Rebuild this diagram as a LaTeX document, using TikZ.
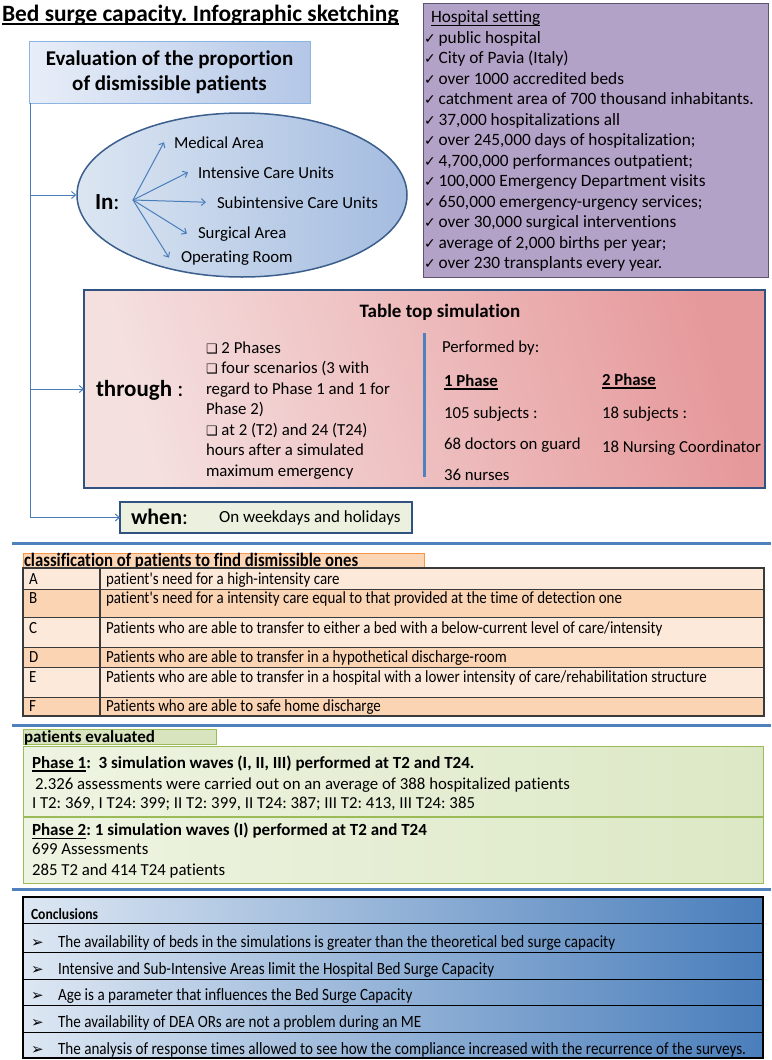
\documentclass[tikz,border=0pt]{standalone}
\usepackage{fontspec}
\setmainfont{Carlito}[Ligatures=NoCommon]
\newfontfamily\narrowfont{Carlito}[FakeStretch=0.88, Ligatures=NoCommon]
\newfontfamily\dingfont{DejaVu Sans}
\usetikzlibrary{shapes.geometric,arrows.meta}
\frenchspacing

\newcommand{\fsz}[1]{\fontsize{#1}{#1}\selectfont}
\newcommand{\chkmark}{{\dingfont\fsz{14}✓}\,}
\newcommand{\qbox}{{\dingfont\fsz{13}❑}\ }
\newcommand{\cbul}{{\dingfont\fsz{15}➢}}
\newcommand{\ulbar}[1]{\setbox0\hbox{#1}\leavevmode\rlap{\vrule height -2.2pt depth 3.5pt width \wd0}\box0}

\definecolor{arrowblue}{HTML}{4A7EBB}
\definecolor{evalL}{HTML}{E8EEF8}
\definecolor{evalR}{HTML}{B4C7E7}
\definecolor{evalline}{HTML}{8EB4E3}
\definecolor{ellL}{HTML}{DCE6F2}
\definecolor{ellR}{HTML}{A4BCE0}
\definecolor{ellline}{HTML}{3B5E8C}
\definecolor{setfill}{HTML}{B3A2C7}
\definecolor{setline}{HTML}{5E5470}
\definecolor{thruL}{HTML}{F5E0E0}
\definecolor{thruR}{HTML}{E6999B}
\definecolor{thruline}{HTML}{2F5280}
\definecolor{divblue}{HTML}{4F81BD}
\definecolor{whenfill}{HTML}{EBF1DE}
\definecolor{sepblue}{HTML}{4F81BD}
\definecolor{hdrorange}{HTML}{FCD5B4}
\definecolor{hdrline}{HTML}{F79646}
\definecolor{rowlight}{HTML}{FDE9D9}
\definecolor{rowdark}{HTML}{FBD4B4}
\definecolor{tabline}{HTML}{3A3A3A}
\definecolor{evhdr}{HTML}{D7E4BD}
\definecolor{evline}{HTML}{9BBB59}
\definecolor{phL}{HTML}{EEF4E2}
\definecolor{phR}{HTML}{DCE8C5}
\definecolor{conL}{HTML}{DDE7F3}
\definecolor{conM}{HTML}{B8CCE6}
\definecolor{conR}{HTML}{4A7EBB}

\tikzset{
  lbl/.style = {anchor=base west, inner sep=0pt, outer sep=0pt, font=#1},
  lbl/.default = {\fsz{16.8}},
  panel/.style = {anchor=north west, inner sep=0pt, outer sep=0pt},
  conn/.style = {arrowblue, line width=1pt, -{Straight Barb[length=4pt,width=7pt]}},
  sepline/.style = {sepblue, line width=3pt}
}

\begin{document}
\begin{tikzpicture}[x=1pt, y=-1pt]
	\useasboundingbox (0,0) rectangle (771,1060);
	\fill[white] (0,0) rectangle (771,1060);
	
	% Title
	\node[lbl={\bfseries\fsz{23.4}}] (title) at (2,21) {\ulbar{Bed surge capacity. Infographic sketching}};
	
	% Evaluation box
	\node[panel, draw=evalline, left color=evalL, right color=evalR, minimum width=281, minimum height=62,
	      align=center, font=\bfseries\fontsize{21}{25}\selectfont] (eval) at (29,41)
	      {Evaluation of the proportion\\of dismissible patients};
	
	% In: ellipse
	\node[ellipse, draw=ellline, line width=1.5pt, left color=ellL, right color=ellR,
	      minimum width=330, minimum height=164] (in) at (242,195) {};
	\node[lbl={\bfseries\fsz{23}}] (inlbl) at (95,209) {In\mdseries:};
	\coordinate (hub) at (133,200);
	\node[lbl={\fsz{16.8}}] (med)  at (174,148) {Medical Area};
	\node[lbl={\fsz{16.8}}] (icu)  at (198,178) {Intensive Care Units};
	\node[lbl={\fsz{16.8}}] (sicu) at (217,208) {Subintensive Care Units};
	\node[lbl={\fsz{16.8}}] (surg) at (198,238) {Surgical Area};
	\node[lbl={\fsz{16.8}}] (orm)  at (181,262) {Operating Room};
	\draw[conn] (hub) -- ([xshift=-10pt]med.west);
	\draw[conn] (hub) -- ([xshift=-10pt]icu.west);
	\draw[conn] (hub) -- ([xshift=-11pt]sicu.west);
	\draw[conn] (hub) -- ([xshift=-11pt]surg.west);
	\draw[conn] (hub) -- ([xshift=-12pt]orm.west);
	
	% Hospital setting
	\node[panel, draw=setline, fill=setfill, minimum width=345, minimum height=274] (setting) at (423,3) {};
	\node[lbl={\fsz{17.3}}] (s0)  at (431,22.5)  {\ulbar{Hospital setting}};
	\node[lbl={\fsz{17.3}}] (s1)  at (424,43)    {\chkmark public hospital};
	\node[lbl={\fsz{17.3}}] (s2)  at (424,63.5)  {\chkmark City of Pavia (Italy)};
	\node[lbl={\fsz{17.3}}] (s3)  at (424,84)    {\chkmark over 1000 accredited beds};
	\node[lbl={\fsz{17.3}}] (s4)  at (424,104.5) {\chkmark catchment area of 700 thousand inhabitants.};
	\node[lbl={\fsz{17.3}}] (s5)  at (424,125)   {\chkmark 37,000 hospitalizations all};
	\node[lbl={\fsz{17.3}}] (s6)  at (424,145.5) {\chkmark over 245,000 days of hospitalization;};
	\node[lbl={\fsz{17.3}}] (s7)  at (424,166)   {\chkmark 4,700,000 performances outpatient;};
	\node[lbl={\fsz{17.3}}] (s8)  at (424,186.5) {\chkmark 100,000 Emergency Department visits};
	\node[lbl={\fsz{17.3}}] (s9)  at (424,207)   {\chkmark 650,000 emergency-urgency services;};
	\node[lbl={\fsz{17.3}}] (s10) at (424,227.5) {\chkmark over 30,000 surgical interventions};
	\node[lbl={\fsz{17.3}}] (s11) at (424,248)   {\chkmark average of 2,000 births per year;};
	\node[lbl={\fsz{17.3}}] (s12) at (424,268.5) {\chkmark over 230 transplants every year.};
	
	% Table top simulation
	\node[panel, draw=thruline, line width=2pt, left color=thruL, right color=thruR, shading angle=105,
	      minimum width=681, minimum height=198] (thru) at (84,290) {};
	\node[font=\bfseries\fsz{19}, inner sep=0pt] (tts) at (440,312) {Table top simulation};
	\node[lbl={\bfseries\fsz{23}}] (thrulbl) at (96,396) {through\mdseries\ :};
	\node[lbl] (b1) at (206,353)   {\qbox 2 Phases};
	\node[lbl] (b2) at (206,373.5) {\qbox four scenarios (3 with};
	\node[lbl] (b3) at (206,394)   {regard to Phase 1 and 1 for};
	\node[lbl] (b4) at (206,414.5) {Phase 2)};
	\node[lbl] (b5) at (206,435)   {\qbox at 2 (T2) and 24 (T24)};
	\node[lbl] (b6) at (206,455.5) {hours after a simulated};
	\node[lbl] (b7) at (206,476)   {maximum emergency};
	\draw[divblue, line width=3pt] (424,333) -- (424,477);
	\node[lbl] (perf) at (442,352) {Performed by:};
	\node[lbl={\bfseries\fsz{16.8}}] (ph1) at (444,386) {\ulbar{1 Phase}};
	\node[lbl={\bfseries\fsz{16.8}}] (ph2) at (602,385) {\ulbar{2 Phase}};
	\node[lbl] (ph1a) at (444,418) {105 subjects :};
	\node[lbl] (ph2a) at (602,418) {18 subjects :};
	\node[lbl] (ph1b) at (444,449) {68 doctors on guard};
	\node[lbl] (ph2b) at (602,452) {18 Nursing Coordinator};
	\node[lbl] (ph1c) at (444,480) {36 nurses};
	
	% When
	\node[panel, draw=thruline, line width=1.8pt, fill=whenfill, minimum width=292, minimum height=31] (when) at (120,502) {};
	\node[lbl={\bfseries\fsz{22}}] (whenlbl) at (131,524) {when\mdseries:};
	\node[lbl={\fsz{17}}] (wdays) at (219,522) {On weekdays and holidays};
	
	% Connectors
	\coordinate (spine) at (30,103);
	\draw[conn] (spine |- in.west) -- (in.west);
	\draw[conn] (spine |- thru.west) -- (thru.west);
	\draw[conn] (spine) |- (when.west);
	
	% Separators
	\draw[sepline] (12,543) -- (771,543);
	\draw[sepline] (12,725) -- (771,725);
	\draw[sepline] (12,889) -- (771,889);
	
	% Classification table
	\node[panel, draw=hdrline, fill=hdrorange, minimum width=401, minimum height=15] (clhdr) at (23,553) {};
	\node[lbl={\narrowfont\bfseries\fsz{19}}] (cltxt) at (24,566) {classification of patients to find dismissible ones};
	\fill[rowlight] (23,568) rectangle (764,589);
	\fill[rowdark]  (23,589) rectangle (764,617);
	\fill[rowlight] (23,617) rectangle (764,647);
	\fill[rowdark]  (23,647) rectangle (764,667);
	\fill[rowlight] (23,667) rectangle (764,697);
	\fill[rowdark]  (23,697) rectangle (764,716);
	\draw[tabline, line width=1.2pt] (23,568) rectangle (764,716);
	\draw[tabline, line width=1.2pt] (100,568) -- (100,716);
	\draw[tabline] (23,589) -- (764,589);
	\draw[tabline] (23,617) -- (764,617);
	\draw[tabline] (23,647) -- (764,647);
	\draw[tabline] (23,667) -- (764,667);
	\draw[tabline] (23,697) -- (764,697);
	\node[lbl={\narrowfont\fsz{17}}] (ka) at (29,584.5) {A};
	\node[lbl={\narrowfont\fsz{17}}] (kb) at (29,603.5) {B};
	\node[lbl={\narrowfont\fsz{17}}] (kc) at (29,633.5) {C};
	\node[lbl={\narrowfont\fsz{17}}] (kd) at (29,662.5) {D};
	\node[lbl={\narrowfont\fsz{17}}] (ke) at (29,682.5) {E};
	\node[lbl={\narrowfont\fsz{17}}] (kf) at (29,711.5) {F};
	\node[lbl={\narrowfont\fsz{17}}] (ta) at (106,584.5) {patient's need for a high-intensity care};
	\node[lbl={\narrowfont\fsz{17}}] (tb) at (106,603.5) {patient's need for a intensity care equal to that provided at the time of detection one};
	\node[lbl={\narrowfont\fsz{17}}] (tc) at (106,633.5) {Patients who are able to transfer to either a bed with a below-current level of care/intensity};
	\node[lbl={\narrowfont\fsz{17}}] (td) at (106,662.5) {Patients who are able to transfer in a hypothetical discharge-room};
	\node[lbl={\narrowfont\fsz{17}}] (te) at (106,682.5) {Patients who are able to transfer in a hospital with a lower intensity of care/rehabilitation structure};
	\node[lbl={\narrowfont\fsz{17}}] (tf) at (106,711.5) {Patients who are able to safe home discharge};
	
	% Patients evaluated
	\node[panel, draw=evline, fill=evhdr, minimum width=193, minimum height=15] (evhead) at (23,729) {};
	\node[lbl={\bfseries\fsz{17}}] (evtxt) at (24,742) {patients evaluated};
	\node[panel, draw=evline, left color=phL, right color=phR, minimum width=740, minimum height=137] (phbox) at (23,746) {};
	\draw[evline, line width=1.5pt] (phbox.west |- 0,817) -- (phbox.east |- 0,817);
	\node[lbl={\bfseries\fsz{17}}] (p1) at (32,768) {\ulbar{Phase 1}:\ \ 3 simulation waves (I, II, III) performed at T2 and T24.};
	\node[lbl={\fsz{16.8}}] (p2) at (35,789.5) {2.326 assessments were carried out on an average of 388 hospitalized patients};
	\node[lbl={\fsz{16.8}}] (p3) at (32,808.5) {I T2: 369, I T24: 399; II T2: 399, II T24: 387; III T2: 413, III T24: 385};
	\node[lbl={\bfseries\fsz{17}}] (p4) at (32,835.5) {\ulbar{Phase 2}: 1 simulation waves (I) performed at T2 and T24};
	\node[lbl={\fsz{16.8}}] (p5) at (32,854.5) {699 Assessments};
	\node[lbl={\fsz{16.8}}] (p6) at (32,875.5) {285 T2 and 414 T24 patients};
	
	% Conclusions
	\shade[left color=conL, middle color=conM, right color=conR] (23,897) rectangle (763,1058);
	\draw[black, line width=1.2pt] (23,897) rectangle (763,1058);
	\draw[black] (23,923) -- (763,923);
	\draw[black] (23,952) -- (763,952);
	\draw[black] (23,979) -- (763,979);
	\draw[black] (23,1005) -- (763,1005);
	\draw[black] (23,1032) -- (763,1032);
	\node[lbl={\narrowfont\bfseries\fsz{15.5}}] (conc) at (31,919) {Conclusions};
	\node[lbl] (c1b) at (31,947.5)  {\cbul};
	\node[lbl] (c2b) at (31,974.5)  {\cbul};
	\node[lbl] (c3b) at (31,1000.5) {\cbul};
	\node[lbl] (c4b) at (31,1027.5) {\cbul};
	\node[lbl] (c5b) at (31,1054) {\cbul};
	\node[lbl={\narrowfont\fsz{17.2}}] (c1) at (58,947.5)  {The availability of beds in the simulations is greater than the theoretical bed surge capacity};
	\node[lbl={\narrowfont\fsz{17.2}}] (c2) at (58,974.5)  {Intensive and Sub-Intensive Areas limit the Hospital Bed Surge Capacity};
	\node[lbl={\narrowfont\fsz{17.2}}] (c3) at (58,1000.5) {Age is a parameter that influences the Bed Surge Capacity};
	\node[lbl={\narrowfont\fsz{17.2}}] (c4) at (58,1027.5) {The availability of DEA ORs are not a problem during an ME};
	\node[lbl={\narrowfont\fsz{17.2}}] (c5) at (58,1054) {The analysis of response times allowed to see how the compliance increased with the recurrence of the surveys.};
	
\end{tikzpicture}
\end{document}
